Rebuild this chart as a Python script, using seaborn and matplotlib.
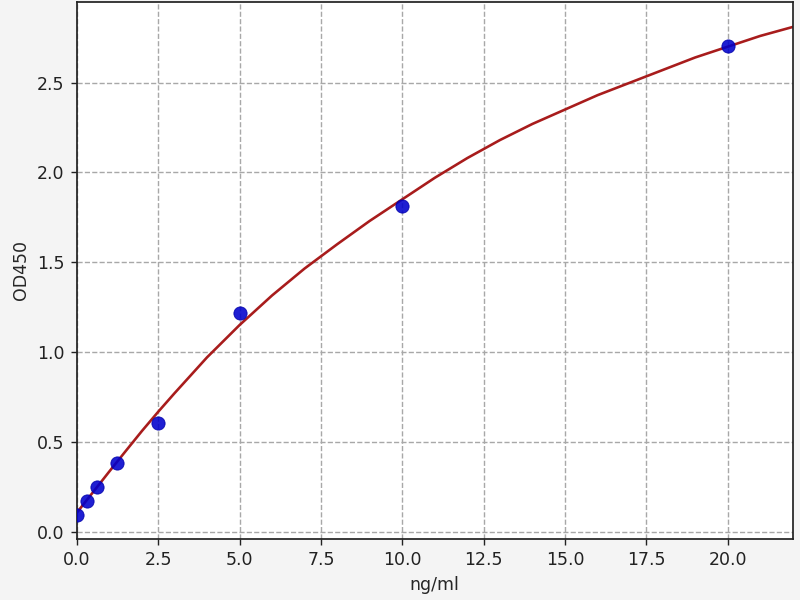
import numpy as np
import pandas as pd
import matplotlib
matplotlib.use("Agg")
import matplotlib.pyplot as plt
import seaborn as sns

# Standard points (concentration ng/ml vs OD450)
conc = [0.0, 0.3125, 0.625, 1.25, 2.5, 5.0, 10.0, 20.0]
od = [0.091, 0.172, 0.249, 0.382, 0.605, 1.216, 1.815, 2.702]

# Fitted curve
curve_x = [0, 0.5, 1, 1.5, 2, 2.5, 3, 3.5, 4, 5, 6, 7, 8, 9, 10, 11,
           12, 13, 14, 15, 16, 17, 18, 19, 20, 21, 22]
curve_y = [0.105, 0.22, 0.335, 0.448, 0.56, 0.667, 0.77, 0.87, 0.97, 1.15, 1.315, 1.465,
           1.60, 1.73, 1.85, 1.97, 2.08, 2.18, 2.27, 2.35, 2.43, 2.50, 2.57, 2.64,
           2.70, 2.76, 2.81]

points_df = pd.DataFrame({"conc": conc, "od": od})
curve_df = pd.DataFrame({"x": curve_x, "y": curve_y})

sns.set_style("white")
plt.rcParams['font.family'] = ['DejaVu Sans']

fig = plt.figure(figsize=(6.4, 4.8), dpi=125, facecolor="#f4f4f4")
ax = fig.add_axes([0.096, 0.102, 0.895, 0.895])
ax.set_facecolor("white")

sns.lineplot(data=curve_df, x="x", y="y", ax=ax, color="#a81c1c", linewidth=1.5, zorder=2)
sns.scatterplot(data=points_df, x="conc", y="od", ax=ax, color="#0000cc", s=58,
                edgecolor="#0000aa", linewidth=0.5, alpha=0.88, zorder=3)

ax.set_xlim(0, 22)
ax.set_ylim(-0.04, 2.95)
ax.set_xticks([0, 2.5, 5, 7.5, 10, 12.5, 15, 17.5, 20])
ax.set_yticks([0, 0.5, 1.0, 1.5, 2.0, 2.5])
ax.xaxis.set_major_formatter(matplotlib.ticker.FormatStrFormatter('%.1f'))
ax.yaxis.set_major_formatter(matplotlib.ticker.FormatStrFormatter('%.1f'))

ax.grid(True, linestyle="--", color="#a8a8a8", linewidth=0.8)
ax.set_axisbelow(True)
for sp in ax.spines.values():
    sp.set_color("#222222")
    sp.set_linewidth(1.0)
ax.tick_params(axis="both", direction="out", length=3.5, width=0.8, colors="#222222",
               labelsize=10, left=True, bottom=True)

ax.set_xlabel("ng/ml", fontsize=10)
ax.set_ylabel("OD450", fontsize=10)

fig.savefig("out.png", dpi=125, facecolor=fig.get_facecolor())
